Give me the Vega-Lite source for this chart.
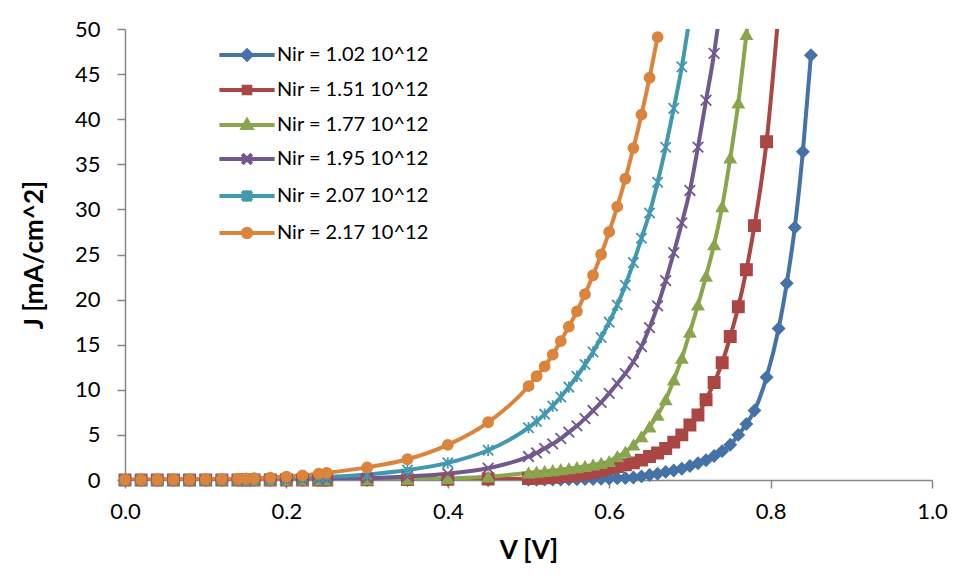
{
  "$schema": "https://vega.github.io/schema/vega-lite/v6.json",
  "width": 807,
  "height": 451,
  "autosize": {"type": "none"},
  "padding": {"left": 125, "top": 29, "right": 24, "bottom": 97},
  "background": "white",
  "config": {
    "view": {"stroke": null},
    "font": "Lato",
    "axis": {
      "grid": false,
      "labelFont": "Lato",
      "labelFontSize": 22,
      "labelColor": "#000000",
      "titleFont": "Lato",
      "titleFontSize": 26,
      "titleFontWeight": "bold",
      "titleColor": "#000000",
      "tickSize": 8,
      "tickWidth": 1.5,
      "tickColor": "#868686",
      "domainColor": "#868686",
      "domainWidth": 1.5,
      "labelFlush": false,
      "labelOverlap": false
    }
  },
  "datasets": {
    "iv": [
      {"s":"Nir = 1.02 10^12","V":0,"J":0},{"s":"Nir = 1.02 10^12","V":0.02,"J":0},{"s":"Nir = 1.02 10^12","V":0.04,"J":0},{"s":"Nir = 1.02 10^12","V":0.06,"J":0},{"s":"Nir = 1.02 10^12","V":0.08,"J":0},{"s":"Nir = 1.02 10^12","V":0.1,"J":0},{"s":"Nir = 1.02 10^12","V":0.12,"J":0},{"s":"Nir = 1.02 10^12","V":0.14,"J":0},{"s":"Nir = 1.02 10^12","V":0.15,"J":0},{"s":"Nir = 1.02 10^12","V":0.16,"J":0},{"s":"Nir = 1.02 10^12","V":0.18,"J":0},{"s":"Nir = 1.02 10^12","V":0.2,"J":0},{"s":"Nir = 1.02 10^12","V":0.22,"J":0},{"s":"Nir = 1.02 10^12","V":0.24,"J":0},{"s":"Nir = 1.02 10^12","V":0.25,"J":0},{"s":"Nir = 1.02 10^12","V":0.3,"J":0},{"s":"Nir = 1.02 10^12","V":0.35,"J":0},{"s":"Nir = 1.02 10^12","V":0.4,"J":0},{"s":"Nir = 1.02 10^12","V":0.45,"J":0.01},
      {"s":"Nir = 1.02 10^12","V":0.5,"J":0.02},{"s":"Nir = 1.02 10^12","V":0.51,"J":0.03},{"s":"Nir = 1.02 10^12","V":0.52,"J":0.04},{"s":"Nir = 1.02 10^12","V":0.53,"J":0.05},{"s":"Nir = 1.02 10^12","V":0.54,"J":0.06},{"s":"Nir = 1.02 10^12","V":0.55,"J":0.07},{"s":"Nir = 1.02 10^12","V":0.56,"J":0.08},{"s":"Nir = 1.02 10^12","V":0.57,"J":0.1},{"s":"Nir = 1.02 10^12","V":0.58,"J":0.12},{"s":"Nir = 1.02 10^12","V":0.59,"J":0.14},{"s":"Nir = 1.02 10^12","V":0.6,"J":0.16},{"s":"Nir = 1.02 10^12","V":0.61,"J":0.19},{"s":"Nir = 1.02 10^12","V":0.62,"J":0.22},{"s":"Nir = 1.02 10^12","V":0.63,"J":0.27},{"s":"Nir = 1.02 10^12","V":0.64,"J":0.4},{"s":"Nir = 1.02 10^12","V":0.65,"J":0.55},{"s":"Nir = 1.02 10^12","V":0.66,"J":0.7},{"s":"Nir = 1.02 10^12","V":0.67,"J":0.9},{"s":"Nir = 1.02 10^12","V":0.68,"J":1.05},{"s":"Nir = 1.02 10^12","V":0.69,"J":1.25},{"s":"Nir = 1.02 10^12","V":0.7,"J":1.55},{"s":"Nir = 1.02 10^12","V":0.71,"J":1.85},{"s":"Nir = 1.02 10^12","V":0.72,"J":2.2},{"s":"Nir = 1.02 10^12","V":0.73,"J":2.65},{"s":"Nir = 1.02 10^12","V":0.74,"J":3.2},{"s":"Nir = 1.02 10^12","V":0.75,"J":3.9},{"s":"Nir = 1.02 10^12","V":0.76,"J":5.0},{"s":"Nir = 1.02 10^12","V":0.77,"J":6.2},{"s":"Nir = 1.02 10^12","V":0.78,"J":7.7},{"s":"Nir = 1.02 10^12","V":0.795,"J":11.4},{"s":"Nir = 1.02 10^12","V":0.81,"J":16.8},{"s":"Nir = 1.02 10^12","V":0.82,"J":21.8},{"s":"Nir = 1.02 10^12","V":0.83,"J":28.0},{"s":"Nir = 1.02 10^12","V":0.84,"J":36.4},{"s":"Nir = 1.02 10^12","V":0.85,"J":47.1},

      {"s":"Nir = 1.51 10^12","V":0,"J":0},{"s":"Nir = 1.51 10^12","V":0.02,"J":0},{"s":"Nir = 1.51 10^12","V":0.04,"J":0},{"s":"Nir = 1.51 10^12","V":0.06,"J":0},{"s":"Nir = 1.51 10^12","V":0.08,"J":0},{"s":"Nir = 1.51 10^12","V":0.1,"J":0},{"s":"Nir = 1.51 10^12","V":0.12,"J":0},{"s":"Nir = 1.51 10^12","V":0.14,"J":0},{"s":"Nir = 1.51 10^12","V":0.15,"J":0},{"s":"Nir = 1.51 10^12","V":0.16,"J":0},{"s":"Nir = 1.51 10^12","V":0.18,"J":0},{"s":"Nir = 1.51 10^12","V":0.2,"J":0},{"s":"Nir = 1.51 10^12","V":0.22,"J":0},{"s":"Nir = 1.51 10^12","V":0.24,"J":0},{"s":"Nir = 1.51 10^12","V":0.25,"J":0},{"s":"Nir = 1.51 10^12","V":0.3,"J":0.02},{"s":"Nir = 1.51 10^12","V":0.35,"J":0.04},{"s":"Nir = 1.51 10^12","V":0.4,"J":0.07},{"s":"Nir = 1.51 10^12","V":0.45,"J":0.11},
      {"s":"Nir = 1.51 10^12","V":0.5,"J":0.15},{"s":"Nir = 1.51 10^12","V":0.51,"J":0.2},{"s":"Nir = 1.51 10^12","V":0.52,"J":0.25},{"s":"Nir = 1.51 10^12","V":0.53,"J":0.3},{"s":"Nir = 1.51 10^12","V":0.54,"J":0.38},{"s":"Nir = 1.51 10^12","V":0.55,"J":0.46},{"s":"Nir = 1.51 10^12","V":0.56,"J":0.56},{"s":"Nir = 1.51 10^12","V":0.57,"J":0.68},{"s":"Nir = 1.51 10^12","V":0.58,"J":0.85},{"s":"Nir = 1.51 10^12","V":0.59,"J":1.05},{"s":"Nir = 1.51 10^12","V":0.6,"J":1.3},{"s":"Nir = 1.51 10^12","V":0.61,"J":1.5},{"s":"Nir = 1.51 10^12","V":0.62,"J":1.7},{"s":"Nir = 1.51 10^12","V":0.63,"J":1.9},{"s":"Nir = 1.51 10^12","V":0.64,"J":2.2},{"s":"Nir = 1.51 10^12","V":0.65,"J":2.6},{"s":"Nir = 1.51 10^12","V":0.66,"J":3.0},{"s":"Nir = 1.51 10^12","V":0.67,"J":3.5},{"s":"Nir = 1.51 10^12","V":0.68,"J":4.2},{"s":"Nir = 1.51 10^12","V":0.69,"J":5.0},{"s":"Nir = 1.51 10^12","V":0.7,"J":6.1},{"s":"Nir = 1.51 10^12","V":0.71,"J":7.2},{"s":"Nir = 1.51 10^12","V":0.72,"J":8.9},{"s":"Nir = 1.51 10^12","V":0.73,"J":10.8},{"s":"Nir = 1.51 10^12","V":0.74,"J":13.0},{"s":"Nir = 1.51 10^12","V":0.75,"J":15.9},{"s":"Nir = 1.51 10^12","V":0.76,"J":19.2},{"s":"Nir = 1.51 10^12","V":0.77,"J":23.3},{"s":"Nir = 1.51 10^12","V":0.78,"J":28.2},{"s":"Nir = 1.51 10^12","V":0.795,"J":37.5},{"s":"Nir = 1.51 10^12","V":0.81,"J":52},

      {"s":"Nir = 1.77 10^12","V":0,"J":0},{"s":"Nir = 1.77 10^12","V":0.02,"J":0},{"s":"Nir = 1.77 10^12","V":0.04,"J":0},{"s":"Nir = 1.77 10^12","V":0.06,"J":0},{"s":"Nir = 1.77 10^12","V":0.08,"J":0},{"s":"Nir = 1.77 10^12","V":0.1,"J":0},{"s":"Nir = 1.77 10^12","V":0.12,"J":0},{"s":"Nir = 1.77 10^12","V":0.14,"J":0},{"s":"Nir = 1.77 10^12","V":0.15,"J":0.01},{"s":"Nir = 1.77 10^12","V":0.16,"J":0.01},{"s":"Nir = 1.77 10^12","V":0.18,"J":0.01},{"s":"Nir = 1.77 10^12","V":0.2,"J":0.02},{"s":"Nir = 1.77 10^12","V":0.22,"J":0.02},{"s":"Nir = 1.77 10^12","V":0.24,"J":0.03},{"s":"Nir = 1.77 10^12","V":0.25,"J":0.03},{"s":"Nir = 1.77 10^12","V":0.3,"J":0.05},{"s":"Nir = 1.77 10^12","V":0.35,"J":0.1},{"s":"Nir = 1.77 10^12","V":0.4,"J":0.18},{"s":"Nir = 1.77 10^12","V":0.45,"J":0.35},
      {"s":"Nir = 1.77 10^12","V":0.5,"J":0.8},{"s":"Nir = 1.77 10^12","V":0.51,"J":0.88},{"s":"Nir = 1.77 10^12","V":0.52,"J":0.96},{"s":"Nir = 1.77 10^12","V":0.53,"J":1.05},{"s":"Nir = 1.77 10^12","V":0.54,"J":1.15},{"s":"Nir = 1.77 10^12","V":0.55,"J":1.25},{"s":"Nir = 1.77 10^12","V":0.56,"J":1.38},{"s":"Nir = 1.77 10^12","V":0.57,"J":1.52},{"s":"Nir = 1.77 10^12","V":0.58,"J":1.68},{"s":"Nir = 1.77 10^12","V":0.59,"J":1.85},{"s":"Nir = 1.77 10^12","V":0.6,"J":2.05},{"s":"Nir = 1.77 10^12","V":0.61,"J":2.6},{"s":"Nir = 1.77 10^12","V":0.62,"J":3.1},{"s":"Nir = 1.77 10^12","V":0.63,"J":3.9},{"s":"Nir = 1.77 10^12","V":0.64,"J":4.8},{"s":"Nir = 1.77 10^12","V":0.65,"J":5.9},{"s":"Nir = 1.77 10^12","V":0.66,"J":7.2},{"s":"Nir = 1.77 10^12","V":0.67,"J":8.9},{"s":"Nir = 1.77 10^12","V":0.68,"J":11.1},{"s":"Nir = 1.77 10^12","V":0.69,"J":13.5},{"s":"Nir = 1.77 10^12","V":0.7,"J":16.4},{"s":"Nir = 1.77 10^12","V":0.71,"J":19.4},{"s":"Nir = 1.77 10^12","V":0.72,"J":22.6},{"s":"Nir = 1.77 10^12","V":0.73,"J":26.1},{"s":"Nir = 1.77 10^12","V":0.74,"J":30.3},{"s":"Nir = 1.77 10^12","V":0.75,"J":35.7},{"s":"Nir = 1.77 10^12","V":0.76,"J":41.8},{"s":"Nir = 1.77 10^12","V":0.77,"J":49.4},{"s":"Nir = 1.77 10^12","V":0.78,"J":57},

      {"s":"Nir = 1.95 10^12","V":0,"J":0.01},{"s":"Nir = 1.95 10^12","V":0.02,"J":0.01},{"s":"Nir = 1.95 10^12","V":0.04,"J":0.01},{"s":"Nir = 1.95 10^12","V":0.06,"J":0.02},{"s":"Nir = 1.95 10^12","V":0.08,"J":0.02},{"s":"Nir = 1.95 10^12","V":0.1,"J":0.02},{"s":"Nir = 1.95 10^12","V":0.12,"J":0.03},{"s":"Nir = 1.95 10^12","V":0.14,"J":0.03},{"s":"Nir = 1.95 10^12","V":0.15,"J":0.04},{"s":"Nir = 1.95 10^12","V":0.16,"J":0.04},{"s":"Nir = 1.95 10^12","V":0.18,"J":0.05},{"s":"Nir = 1.95 10^12","V":0.2,"J":0.06},{"s":"Nir = 1.95 10^12","V":0.22,"J":0.08},{"s":"Nir = 1.95 10^12","V":0.24,"J":0.1},{"s":"Nir = 1.95 10^12","V":0.25,"J":0.11},{"s":"Nir = 1.95 10^12","V":0.3,"J":0.2},{"s":"Nir = 1.95 10^12","V":0.35,"J":0.4},{"s":"Nir = 1.95 10^12","V":0.4,"J":0.7},{"s":"Nir = 1.95 10^12","V":0.45,"J":1.3},
      {"s":"Nir = 1.95 10^12","V":0.5,"J":2.6},{"s":"Nir = 1.95 10^12","V":0.51,"J":3.0},{"s":"Nir = 1.95 10^12","V":0.52,"J":3.5},{"s":"Nir = 1.95 10^12","V":0.53,"J":4.0},{"s":"Nir = 1.95 10^12","V":0.54,"J":4.6},{"s":"Nir = 1.95 10^12","V":0.55,"J":5.3},{"s":"Nir = 1.95 10^12","V":0.56,"J":6.0},{"s":"Nir = 1.95 10^12","V":0.57,"J":6.8},{"s":"Nir = 1.95 10^12","V":0.58,"J":7.7},{"s":"Nir = 1.95 10^12","V":0.59,"J":8.6},{"s":"Nir = 1.95 10^12","V":0.6,"J":9.6},{"s":"Nir = 1.95 10^12","V":0.61,"J":10.7},{"s":"Nir = 1.95 10^12","V":0.62,"J":11.8},{"s":"Nir = 1.95 10^12","V":0.63,"J":13.1},{"s":"Nir = 1.95 10^12","V":0.64,"J":14.8},{"s":"Nir = 1.95 10^12","V":0.65,"J":16.9},{"s":"Nir = 1.95 10^12","V":0.66,"J":19.3},{"s":"Nir = 1.95 10^12","V":0.67,"J":22.1},{"s":"Nir = 1.95 10^12","V":0.68,"J":25.2},{"s":"Nir = 1.95 10^12","V":0.69,"J":28.5},{"s":"Nir = 1.95 10^12","V":0.7,"J":32.1},{"s":"Nir = 1.95 10^12","V":0.71,"J":36.9},{"s":"Nir = 1.95 10^12","V":0.72,"J":42.1},{"s":"Nir = 1.95 10^12","V":0.73,"J":47.3},{"s":"Nir = 1.95 10^12","V":0.74,"J":54},

      {"s":"Nir = 2.07 10^12","V":0,"J":0.02},{"s":"Nir = 2.07 10^12","V":0.02,"J":0.03},{"s":"Nir = 2.07 10^12","V":0.04,"J":0.03},{"s":"Nir = 2.07 10^12","V":0.06,"J":0.04},{"s":"Nir = 2.07 10^12","V":0.08,"J":0.05},{"s":"Nir = 2.07 10^12","V":0.1,"J":0.06},{"s":"Nir = 2.07 10^12","V":0.12,"J":0.07},{"s":"Nir = 2.07 10^12","V":0.14,"J":0.09},{"s":"Nir = 2.07 10^12","V":0.15,"J":0.1},{"s":"Nir = 2.07 10^12","V":0.16,"J":0.11},{"s":"Nir = 2.07 10^12","V":0.18,"J":0.14},{"s":"Nir = 2.07 10^12","V":0.2,"J":0.18},{"s":"Nir = 2.07 10^12","V":0.22,"J":0.23},{"s":"Nir = 2.07 10^12","V":0.24,"J":0.29},{"s":"Nir = 2.07 10^12","V":0.25,"J":0.32},{"s":"Nir = 2.07 10^12","V":0.3,"J":0.6},{"s":"Nir = 2.07 10^12","V":0.35,"J":1.1},{"s":"Nir = 2.07 10^12","V":0.4,"J":1.9},{"s":"Nir = 2.07 10^12","V":0.45,"J":3.3},
      {"s":"Nir = 2.07 10^12","V":0.5,"J":5.8},{"s":"Nir = 2.07 10^12","V":0.51,"J":6.5},{"s":"Nir = 2.07 10^12","V":0.52,"J":7.3},{"s":"Nir = 2.07 10^12","V":0.53,"J":8.2},{"s":"Nir = 2.07 10^12","V":0.54,"J":9.2},{"s":"Nir = 2.07 10^12","V":0.55,"J":10.3},{"s":"Nir = 2.07 10^12","V":0.56,"J":11.5},{"s":"Nir = 2.07 10^12","V":0.57,"J":12.8},{"s":"Nir = 2.07 10^12","V":0.58,"J":14.2},{"s":"Nir = 2.07 10^12","V":0.59,"J":15.8},{"s":"Nir = 2.07 10^12","V":0.6,"J":17.5},{"s":"Nir = 2.07 10^12","V":0.61,"J":19.4},{"s":"Nir = 2.07 10^12","V":0.62,"J":21.6},{"s":"Nir = 2.07 10^12","V":0.63,"J":24.1},{"s":"Nir = 2.07 10^12","V":0.64,"J":26.8},{"s":"Nir = 2.07 10^12","V":0.65,"J":29.6},{"s":"Nir = 2.07 10^12","V":0.66,"J":33.0},{"s":"Nir = 2.07 10^12","V":0.67,"J":36.9},{"s":"Nir = 2.07 10^12","V":0.68,"J":41.2},{"s":"Nir = 2.07 10^12","V":0.69,"J":45.8},{"s":"Nir = 2.07 10^12","V":0.7,"J":51.5},

      {"s":"Nir = 2.17 10^12","V":0,"J":0.05},{"s":"Nir = 2.17 10^12","V":0.02,"J":0.05},{"s":"Nir = 2.17 10^12","V":0.04,"J":0.06},{"s":"Nir = 2.17 10^12","V":0.06,"J":0.07},{"s":"Nir = 2.17 10^12","V":0.08,"J":0.08},{"s":"Nir = 2.17 10^12","V":0.1,"J":0.1},{"s":"Nir = 2.17 10^12","V":0.12,"J":0.12},{"s":"Nir = 2.17 10^12","V":0.14,"J":0.15},{"s":"Nir = 2.17 10^12","V":0.15,"J":0.17},{"s":"Nir = 2.17 10^12","V":0.16,"J":0.2},{"s":"Nir = 2.17 10^12","V":0.18,"J":0.27},{"s":"Nir = 2.17 10^12","V":0.2,"J":0.38},{"s":"Nir = 2.17 10^12","V":0.22,"J":0.52},{"s":"Nir = 2.17 10^12","V":0.24,"J":0.7},{"s":"Nir = 2.17 10^12","V":0.25,"J":0.8},{"s":"Nir = 2.17 10^12","V":0.3,"J":1.4},{"s":"Nir = 2.17 10^12","V":0.35,"J":2.3},{"s":"Nir = 2.17 10^12","V":0.4,"J":3.9},{"s":"Nir = 2.17 10^12","V":0.45,"J":6.4},
      {"s":"Nir = 2.17 10^12","V":0.5,"J":10.4},{"s":"Nir = 2.17 10^12","V":0.51,"J":11.5},{"s":"Nir = 2.17 10^12","V":0.52,"J":12.6},{"s":"Nir = 2.17 10^12","V":0.53,"J":13.9},{"s":"Nir = 2.17 10^12","V":0.54,"J":15.4},{"s":"Nir = 2.17 10^12","V":0.55,"J":17.0},{"s":"Nir = 2.17 10^12","V":0.56,"J":18.7},{"s":"Nir = 2.17 10^12","V":0.57,"J":20.6},{"s":"Nir = 2.17 10^12","V":0.58,"J":22.7},{"s":"Nir = 2.17 10^12","V":0.59,"J":25.0},{"s":"Nir = 2.17 10^12","V":0.6,"J":27.5},{"s":"Nir = 2.17 10^12","V":0.61,"J":30.3},{"s":"Nir = 2.17 10^12","V":0.62,"J":33.4},{"s":"Nir = 2.17 10^12","V":0.63,"J":36.8},{"s":"Nir = 2.17 10^12","V":0.64,"J":40.5},{"s":"Nir = 2.17 10^12","V":0.65,"J":44.6},{"s":"Nir = 2.17 10^12","V":0.66,"J":49.1}
    ]
  },
  "data": {"name": "iv"},
  "encoding": {
    "x": {
      "field": "V", "type": "quantitative",
      "scale": {"domain": [0, 1], "nice": false},
      "axis": {"values": [0, 0.2, 0.4, 0.6, 0.8, 1.0], "format": ".1f", "title": "V [V]", "labelPadding": 13, "titlePadding": 15}
    },
    "y": {
      "field": "J", "type": "quantitative",
      "scale": {"domain": [0, 50], "nice": false},
      "axis": {"values": [0, 5, 10, 15, 20, 25, 30, 35, 40, 45, 50], "title": "J [mA/cm^2]", "labelPadding": 17, "titlePadding": 27}
    }
  },
  "layer": [
    {
      "layer": [
        {
          "mark": {"type": "line", "strokeWidth": 4, "clip": true, "interpolate": "monotone"},
          "encoding": {
            "color": {
              "field": "s", "type": "nominal",
              "scale": {"domain": ["Nir = 1.02 10^12", "Nir = 1.51 10^12", "Nir = 1.77 10^12", "Nir = 1.95 10^12", "Nir = 2.07 10^12", "Nir = 2.17 10^12"],
                        "range": ["#4572A7", "#AA4643", "#89A54E", "#71588F", "#4198AF", "#DB843D"]},
              "legend": null
            }
          }
        },
        {
          "transform": [{"filter": "datum.J <= 50"}],
          "mark": {"type": "point", "filled": true, "opacity": 1, "strokeWidth": 1.8},
          "encoding": {
            "color": {
              "field": "s", "type": "nominal",
              "scale": {"domain": ["Nir = 1.02 10^12", "Nir = 1.51 10^12", "Nir = 1.77 10^12", "Nir = 1.95 10^12", "Nir = 2.07 10^12", "Nir = 2.17 10^12"],
                        "range": ["#4572A7", "#AA4643", "#89A54E", "#71588F", "#4198AF", "#DB843D"]},
              "legend": null
            },
            "stroke": {
              "field": "s", "type": "nominal",
              "scale": {"domain": ["Nir = 1.02 10^12", "Nir = 1.51 10^12", "Nir = 1.77 10^12", "Nir = 1.95 10^12", "Nir = 2.07 10^12", "Nir = 2.17 10^12"],
                        "range": ["#4572A7", "#AA4643", "#89A54E", "#71588F", "#4198AF", "#DB843D"]},
              "legend": null
            },
            "shape": {
              "field": "s", "type": "nominal",
              "scale": {"domain": ["Nir = 1.02 10^12", "Nir = 1.51 10^12", "Nir = 1.77 10^12", "Nir = 1.95 10^12", "Nir = 2.07 10^12", "Nir = 2.17 10^12"],
                        "range": ["diamond", "square", "triangle-up", "M-1,-1L1,1M-1,1L1,-1", "M-1,-1L1,1M-1,1L1,-1M0,-1.1L0,1.1", "circle"]},
              "legend": null
            },
            "size": {
              "field": "s", "type": "nominal",
              "scale": {"domain": ["Nir = 1.02 10^12", "Nir = 1.51 10^12", "Nir = 1.77 10^12", "Nir = 1.95 10^12", "Nir = 2.07 10^12", "Nir = 2.17 10^12"],
                        "range": [130, 100, 150, 144, 144, 144]},
              "legend": null
            }
          }
        }
      ]
    },
    {
      "transform": [{"filter": "datum.V > 5"}],
      "mark": {"type": "point", "filled": true, "opacity": 1, "size": 144, "strokeWidth": 4},
      "encoding": {
        "color": {
          "field": "s", "type": "nominal",
          "scale": {"domain": ["Nir = 1.02 10^12", "Nir = 1.51 10^12", "Nir = 1.77 10^12", "Nir = 1.95 10^12", "Nir = 2.07 10^12", "Nir = 2.17 10^12"],
                    "range": ["#4572A7", "#AA4643", "#89A54E", "#71588F", "#4198AF", "#DB843D"]},
          "legend": {"title": null, "orient": "none", "legendX": 112, "legendY": 16, "padding": 0, "labelFont": "Lato", "labelFontSize": 20, "labelColor": "#000000", "labelOffset": 20, "rowPadding": 10, "symbolSize": 144, "symbolStrokeWidth": 4, "symbolOpacity": 1}
        },
        "stroke": {
          "field": "s", "type": "nominal",
          "scale": {"domain": ["Nir = 1.02 10^12", "Nir = 1.51 10^12", "Nir = 1.77 10^12", "Nir = 1.95 10^12", "Nir = 2.07 10^12", "Nir = 2.17 10^12"],
                    "range": ["#4572A7", "#AA4643", "#89A54E", "#71588F", "#4198AF", "#DB843D"]},
          "legend": {"title": null, "orient": "none", "legendX": 112, "legendY": 16, "padding": 0, "labelFont": "Lato", "labelFontSize": 20, "labelColor": "#000000", "labelOffset": 20, "rowPadding": 10, "symbolSize": 144, "symbolStrokeWidth": 4, "symbolOpacity": 1}
        },
        "shape": {
          "field": "s", "type": "nominal",
          "scale": {"domain": ["Nir = 1.02 10^12", "Nir = 1.51 10^12", "Nir = 1.77 10^12", "Nir = 1.95 10^12", "Nir = 2.07 10^12", "Nir = 2.17 10^12"],
                    "range": [
                      "M-4.6,0L4.6,0M0,-0.75L0.75,0L0,0.75L-0.75,0Z",
                      "M-4.6,0L4.6,0M-0.55,-0.55L0.55,-0.55L0.55,0.55L-0.55,0.55Z",
                      "M-4.6,0L4.6,0M0,-0.75L0.7,0.5L-0.7,0.5Z",
                      "M-4.6,0L4.6,0M-0.8,-0.8L0.8,0.8M-0.8,0.8L0.8,-0.8",
                      "M-4.6,0L4.6,0M-0.8,-0.8L0.8,0.8M-0.8,0.8L0.8,-0.8M0,-0.95L0,0.95",
                      "M-4.6,0L4.6,0M0.7,0A0.7,0.7,0,1,1,-0.7,0A0.7,0.7,0,1,1,0.7,0Z"
                    ]},
          "legend": {"title": null, "orient": "none", "legendX": 112, "legendY": 16, "padding": 0, "labelFont": "Lato", "labelFontSize": 20, "labelColor": "#000000", "labelOffset": 20, "rowPadding": 10, "symbolSize": 144, "symbolStrokeWidth": 4, "symbolOpacity": 1}
        }
      }
    }
  ],
  "resolve": {"scale": {"color": "independent", "stroke": "independent", "shape": "independent", "size": "independent"}}
}
